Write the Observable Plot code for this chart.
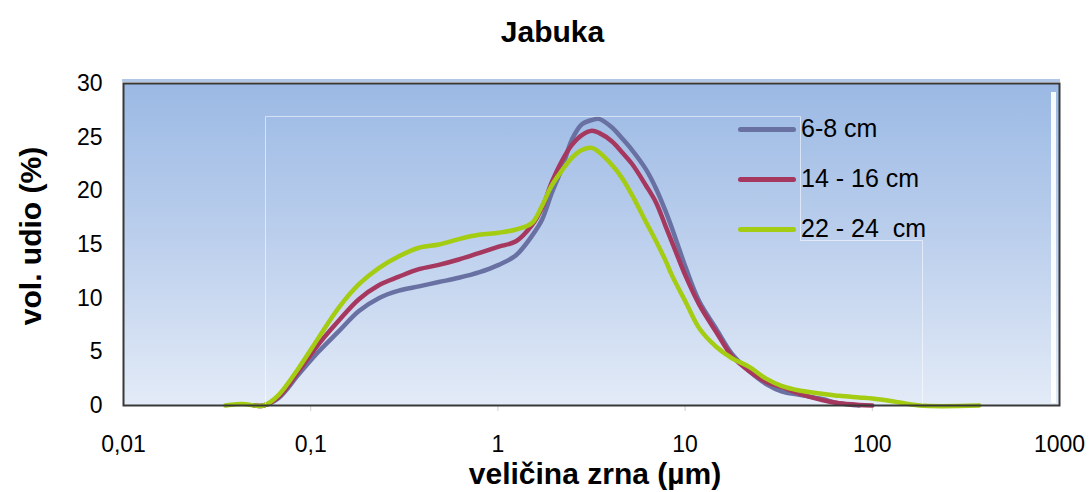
<!DOCTYPE html>
<html>
<head>
<meta charset="utf-8">
<script src="https://cdn.jsdelivr.net/npm/d3@7"></script>
<script src="https://cdn.jsdelivr.net/npm/@observablehq/plot@0.6"></script>
<style>
  html, body { margin: 0; padding: 0; background: #fff; }
  body { font-family: "Liberation Sans", Arial, Helvetica, sans-serif; color: #000; }
  #wrap { position: relative; width: 1090px; height: 492px; overflow: hidden; }
  #title { height: 62px; line-height: 64px; text-align: center; font-weight: bold; font-size: 30px; padding-left: 15px; box-sizing: border-box; }
  #chart svg { display: block; }
  .abs { position: absolute; }
  #xlabel { left: 0; width: 1090px; top: 458px; text-align: center; font-weight: bold; font-size: 30px; padding-left: 100px; box-sizing: border-box; line-height: 32px; }
  #ylabel { left: 31px; top: 236px; font-weight: bold; font-size: 30px; white-space: nowrap; transform: translate(-50%, -50%) rotate(-90deg); line-height: 32px; }
  .leg-line { position: absolute; left: 738px; width: 58px; height: 5px; border-radius: 3px; }
  .leg-text { position: absolute; left: 801px; font-size: 25px; line-height: 28px; white-space: pre; }
</style>
</head>
<body>
<div id="wrap">
  <div id="title">Jabuka</div>
  <div id="chart"></div>
  <div id="xlabel" class="abs">veličina zrna (µm)</div>
  <div id="ylabel" class="abs">vol. udio (%)</div>
  <div id="legend"></div>
</div>
<script>
// ---- data ----
const sizes = [0.035, 0.04, 0.045, 0.05, 0.056, 0.0675, 0.0863, 0.11, 0.141, 0.181, 0.231, 0.296, 0.379, 0.483, 0.618, 0.791, 1.01, 1.25, 1.52, 1.72, 1.94, 2.2, 2.49, 2.81, 3.18, 3.47, 4.07, 4.6, 5.21, 6.18, 7.0, 7.91, 8.52, 10.1, 11.9, 14.6, 17.8, 22.0, 27.1, 33.0, 40.7, 54.0, 66.6, 85, 100, 128, 178, 373];
const depth6_8 = [null, null, null, 0, 0, 0.7, 2.9, 5.0, 6.9, 8.8, 10.0, 10.7, 11.1, 11.5, 11.9, 12.4, 13.1, 14.0, 15.8, 17.3, 19.8, 22.1, 24.8, 26.2, 26.6, 26.7, 25.9, 24.9, 23.8, 22.0, 20.2, 18.0, 16.5, 12.8, 9.7, 7.2, 4.8, 3.2, 2.0, 1.3, 1.0, 0.6, 0.2, 0, null, null, null, null];
const depth14_16 = [null, null, null, 0, 0, 0.8, 3.2, 5.7, 7.9, 9.9, 11.2, 12.0, 12.7, 13.1, 13.6, 14.2, 14.8, 15.3, 16.8, 18.4, 20.8, 22.8, 24.3, 25.2, 25.6, 25.4, 24.6, 23.6, 22.5, 20.5, 18.9, 16.6, 15.2, 12.0, 9.4, 6.9, 4.6, 3.2, 2.2, 1.7, 1.1, 0.5, 0.2, 0.05, 0, null, null, null];
const depth22_24 = [0, 0.12, 0.12, 0, 0, 1.0, 3.5, 6.3, 9.1, 11.3, 12.8, 13.9, 14.7, 15.0, 15.5, 15.9, 16.1, 16.4, 17.0, 18.6, 20.5, 21.9, 23.1, 23.8, 24.0, 23.6, 22.4, 21.2, 19.6, 17.1, 15.3, 13.4, 12.1, 9.6, 7.2, 5.5, 4.4, 3.6, 2.5, 1.8, 1.4, 1.1, 0.9, 0.75, 0.65, 0.4, 0, 0];
const seriesNames = ["6-8 cm", "14 - 16 cm", "22 - 24  cm"];
const seriesColors = ["#6971a3", "#a6385f", "#a3cc12"];
const xTicks = [0.01, 0.1, 1, 10, 100, 1000];
const xTickLabels = ["0,01", "0,1", "1", "10", "100", "1000"];
const yTicks = [0, 5, 10, 15, 20, 25, 30];

const seriesValues = [depth6_8, depth14_16, depth22_24];
const rows = seriesNames.flatMap((name, i) =>
  sizes.map((x, j) => ({ x, y: seriesValues[i][j], name })).filter(d => d.y != null)
);
const xLabelOf = d => xTickLabels[Math.round(Math.log10(d)) + 2];

const chart = Plot.plot({
  width: 1090,
  height: 430,
  marginTop: 21,
  marginBottom: 87,
  marginLeft: 123,
  marginRight: 31,
  style: { fontFamily: "Liberation Sans, Arial, sans-serif", fontSize: "23px", color: "#000", background: "transparent" },
  x: { type: "log", domain: [0.01, 1000] },
  y: { domain: [0, 30] },
  color: { domain: seriesNames, range: seriesColors },
  marks: [
    Plot.frame({ fill: "url(#plotBg)" }),
    Plot.axisX({ ticks: [0.1, 1, 10, 100], tickSize: 6, tickFormat: () => "", stroke: "#cfcfcf", label: null }),
    Plot.axisX({ ticks: xTicks, tickFormat: xLabelOf, tickSize: 0, tickPadding: 30, fontSize: 23, label: null }),
    Plot.axisY({ ticks: yTicks, tickSize: 0, tickPadding: 21, fontSize: 23, label: null }),
    Plot.line(rows, { x: "x", y: "y", z: "name", stroke: "name", strokeWidth: 4.5, curve: "catmull-rom", strokeLinejoin: "round", strokeLinecap: "round" }),
    Plot.frame({ stroke: "#383838", strokeWidth: 2 })
  ]
});

const svg = d3.select(chart);
const grad = svg.insert("defs", ":first-child")
  .append("linearGradient").attr("id", "plotBg")
  .attr("x1", 0).attr("y1", 0).attr("x2", 0).attr("y2", 1);
grad.append("stop").attr("offset", "0").attr("stop-color", "#9bb9e4");
grad.append("stop").attr("offset", "0.5").attr("stop-color", "#bdd0ed");
grad.append("stop").attr("offset", "1").attr("stop-color", "#e3ebf7");
document.getElementById("chart").appendChild(chart);

// decorative overlays (image artefacts of the original)
const wrap = d3.select("#wrap");
wrap.append("div").attr("class", "abs")
  .style("left", "122px").style("top", "79px").style("width", "938px").style("height", "3px")
  .style("background", "#b2c7e6");
wrap.append("div").attr("class", "abs")
  .style("left", "1051px").style("top", "92px").style("width", "5px").style("height", "311px")
  .style("background", "rgba(255,255,255,0.92)");
const ov = wrap.append("svg").attr("class", "abs")
  .style("left", 0).style("top", 0).attr("width", 1090).attr("height", 492)
  .style("pointer-events", "none");
ov.append("path")
  .attr("d", "M265.5,404 V116.5 H800.5 V240.5 H922.5 V404")
  .attr("fill", "none").attr("stroke", "rgba(255,255,255,0.55)").attr("stroke-width", 1);

// legend
const legend = d3.select("#legend");
const legY = [129, 179, 229];
seriesNames.forEach((name, i) => {
  legend.append("div").attr("class", "leg-line")
    .style("top", (legY[i] - 2.5) + "px").style("background", seriesColors[i]);
  legend.append("div").attr("class", "leg-text")
    .style("top", (legY[i] - 15) + "px").text(name);
});
</script>
</body>
</html>
